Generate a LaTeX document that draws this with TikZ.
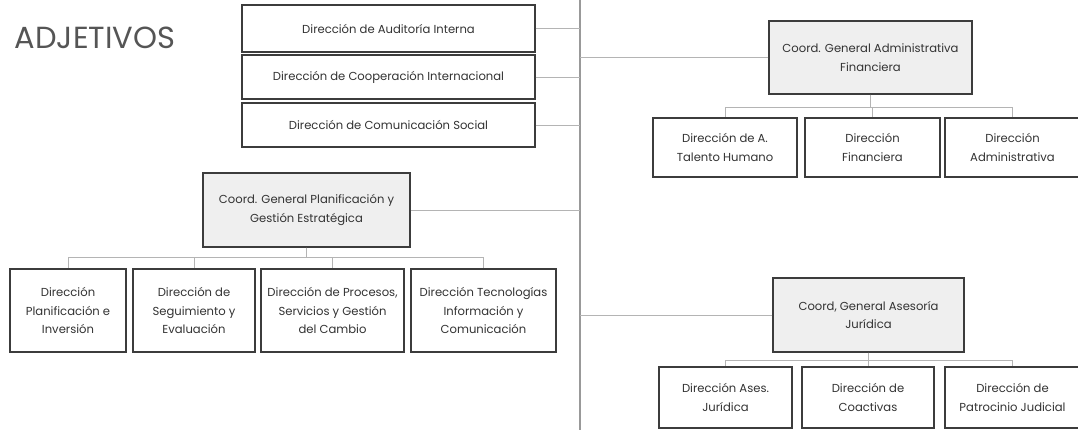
\documentclass[tikz,border=0pt]{standalone}
\usepackage{fontspec}
\setmainfont{Poppins}
\definecolor{boxline}{HTML}{3C3C3C}
\definecolor{conn}{HTML}{B4B4B4}
\definecolor{coordfill}{HTML}{EFEFEF}
\definecolor{txt}{HTML}{333333}
\definecolor{title}{HTML}{555555}
\begin{document}
\begin{tikzpicture}[x=1pt,y=-1pt,
  unit/.style={draw=boxline,line width=1.1pt,fill=white,inner sep=1pt,align=center,
    text=txt,font=\fontsize{11.6}{18.5}\selectfont},
  coordbox/.style={unit,fill=coordfill},
  link/.style={draw=conn,line width=0.9pt},
  mainline/.style={draw=conn!85!black,line width=1.8pt}]
\useasboundingbox (0,0) rectangle (1078,430);
\fill[white] (0,0) rectangle (1078,430);
\coordinate (vtop) at (580,0);
\coordinate (vbot) at (580,430);
\draw[mainline] (vtop) -- (vbot);

\node[text=title,font=\fontsize{30.5}{32}\selectfont] (title) at (95,38) {ADJETIVOS};

% left column top
\node[unit,minimum width=293pt,minimum height=47pt] (aud) at (388.5,28.5) {Dirección de Auditoría Interna};
\node[unit,minimum width=293pt,minimum height=44pt] (coop) at (388.5,77) {Dirección de Cooperación Internacional};
\node[unit,minimum width=293pt,minimum height=44pt] (comu) at (388.5,125) {Dirección de Comunicación Social};

% planning
\node[coordbox,minimum width=207pt,minimum height=74pt] (cgp) at (306.5,210) {Coord. General Planificación y\\Gestión Estratégica};
\node[unit,minimum width=116pt,minimum height=83pt] (b1) at (68,310.5) {Dirección\\Planificación e\\Inversión};
\node[unit,minimum width=122pt,minimum height=83pt] (b2) at (194,310.5) {Dirección de\\Seguimiento y\\Evaluación};
\node[unit,minimum width=143pt,minimum height=83pt] (b3) at (332.5,310.5) {Dirección de Procesos,\\Servicios y Gestión\\del Cambio};
\node[unit,minimum width=145pt,minimum height=83pt] (b4) at (483.5,310.5) {Dirección Tecnologías\\Información y\\Comunicación};

% admin-financial
\node[coordbox,minimum width=203pt,minimum height=73pt] (cga) at (870.5,57.5) {Coord. General Administrativa\\Financiera};
\node[unit,minimum width=144pt,minimum height=59pt] (r1) at (725,147.5) {Dirección de A.\\Talento Humano};
\node[unit,minimum width=135pt,minimum height=59pt] (r2) at (872.5,147.5) {Dirección\\Financiera};
\node[unit,minimum width=135pt,minimum height=59pt] (r3) at (1012.5,147.5) {Dirección\\Administrativa};

% legal
\node[coordbox,minimum width=191pt,minimum height=74pt] (cgj) at (868.5,315) {Coord, General Asesoría\\Jurídica};
\node[unit,minimum width=133pt,minimum height=61pt] (j1) at (725.5,397.5) {Dirección Ases.\\Jurídica};
\node[unit,minimum width=132pt,minimum height=61pt] (j2) at (868,397.5) {Dirección de\\Coactivas};
\node[unit,minimum width=135pt,minimum height=61pt] (j3) at (1012.5,397.5) {Dirección de\\Patrocinio Judicial};

% links to main line
\foreach \n in {aud,coop,comu,cgp} \draw[link] (\n.east) -- (\n.east -| vtop);
\foreach \n in {cga,cgj} \draw[link] (\n.west) -- (\n.west -| vtop);

% buses
\foreach \n in {b1,b2,b3,b4} \draw[link] (cgp.south) -- ++(0,10) -| (\n.north);
\foreach \n in {r1,r2,r3} \draw[link] (cga.south) -- ++(0,13) -| (\n.north);
\foreach \n in {j1,j2,j3} \draw[link] (cgj.south) -- ++(0,8) -| (\n.north);
\end{tikzpicture}
\end{document}
